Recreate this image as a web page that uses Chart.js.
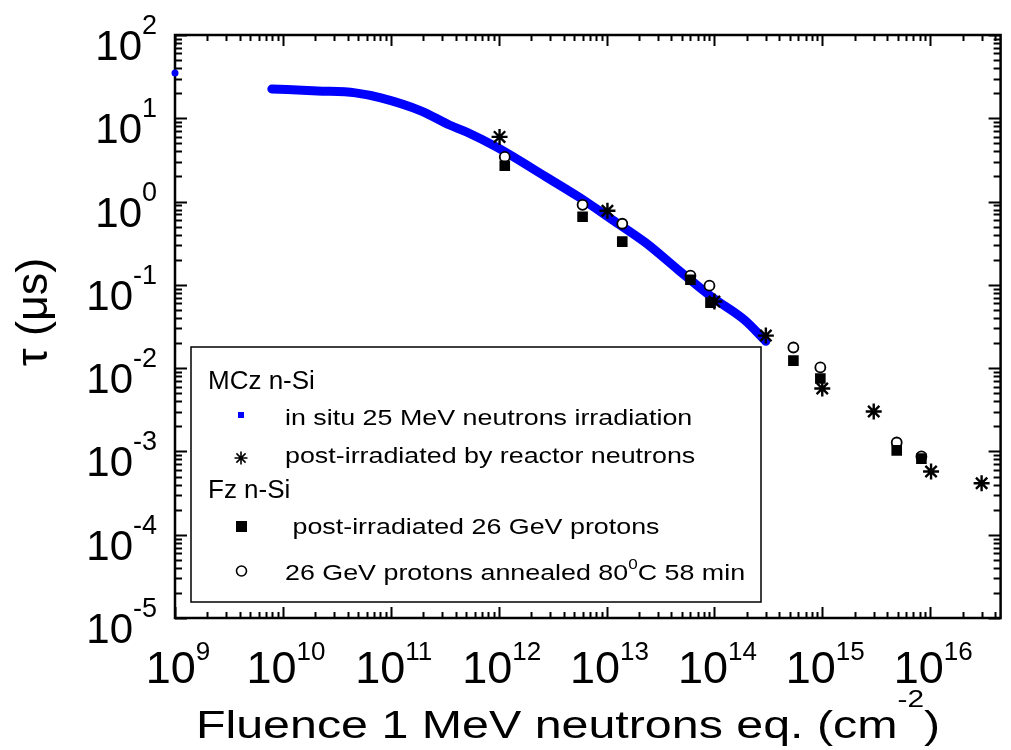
<!DOCTYPE html>
<html>
<head>
<meta charset="utf-8">
<script src="https://cdn.jsdelivr.net/npm/chart.js@4.4.1/dist/chart.umd.min.js"></script>
<style>
  html, body { margin: 0; padding: 0; background: #fff; }
</style>
</head>
<body>
<canvas id="c" width="1011" height="750"></canvas>
<script>
// MCz n-Si, in situ 25 MeV neutrons irradiation (dense measurement, read along the band)
const insituX = [7.9e9, 2.1e10, 4.7e10, 8.1e10, 1.9e11, 3.5e11, 5.1e11, 9.6e11, 2.75e12, 5.5e12, 1.13e13, 2.3e13, 4.6e13, 9.4e13, 1.9e14, 3.0e14];
const insituY = [22.5, 21.3, 20.2, 17.6, 12.3, 8.3, 6.8, 4.5, 1.98, 1.14, 0.605, 0.321, 0.152, 0.072, 0.038, 0.021];
// lone point at the left edge
const insituStartX = [1e9];
const insituStartY = [35];

// MCz n-Si, post-irradiated by reactor neutrons
const reactorX = [1.02e12, 1.02e13, 1.0e14, 3.0e14, 1.0e15, 3.0e15, 1.02e16, 3.0e16];
const reactorY = [5.98, 0.776, 0.063, 0.0246, 0.0057, 0.00302, 5.75e-4, 4.15e-4];

// Fz n-Si, post-irradiated 26 GeV protons
const protonX = [1.14e12, 6.0e12, 1.4e13, 6.0e13, 9.2e13, 5.4e14, 9.6e14, 4.9e15, 8.3e15];
const protonY = [2.69, 0.658, 0.33, 0.115, 0.0612, 0.0123, 0.0075, 1.03e-3, 8.2e-4];

// Fz n-Si, 26 GeV protons annealed 80 C 58 min
const annealX = [1.14e12, 6.0e12, 1.4e13, 6.0e13, 9.0e13, 5.4e14, 9.6e14, 4.9e15, 8.3e15];
const annealY = [3.44, 0.915, 0.542, 0.129, 0.0977, 0.0177, 0.0102, 1.28e-3, 8.7e-4];

// decade labels
const xTickExps = ['9', '10', '11', '12', '13', '14', '15', '16'];
const yTickExps = ['-5', '-4', '-3', '-2', '-1', '0', '1', '2'];

const FONT = '"Liberation Sans", Arial, Helvetica, sans-serif';
const pts = (xs, ys) => xs.map((x, i) => ({ x: x, y: ys[i] }));

// draw "10" with a raised exponent
function powLabel(ctx, exp, x, baseY, bigPx, smallPx, align, rise) {
    ctx.font = bigPx + 'px ' + FONT;
    const w1 = ctx.measureText('10').width;
    ctx.font = smallPx + 'px ' + FONT;
    const w2 = ctx.measureText(exp).width;
    const left = align === 'center' ? x - (w1 + w2) / 2 : x - (w1 + w2);
    ctx.textAlign = 'left';
    ctx.textBaseline = 'alphabetic';
    ctx.font = bigPx + 'px ' + FONT;
    ctx.fillText('10', left, baseY);
    ctx.font = smallPx + 'px ' + FONT;
    ctx.fillText(exp, left + w1, baseY - rise);
}

// text pieces: [text, size, rise], sx = horizontal stretch
function richText(ctx, parts, x, y, align, sx) {
    sx = sx || 1;
    let total = 0;
    parts.forEach(p => { ctx.font = p[1] + 'px ' + FONT; total += ctx.measureText(p[0]).width; });
    total *= sx;
    const start = align === 'center' ? x - total / 2 : x;
    ctx.save();
    ctx.translate(start, y);
    ctx.scale(sx, 1);
    ctx.textAlign = 'left';
    ctx.textBaseline = 'alphabetic';
    let cx = 0;
    parts.forEach(p => {
        ctx.font = p[1] + 'px ' + FONT;
        ctx.fillText(p[0], cx, -(p[2] || 0));
        cx += ctx.measureText(p[0]).width;
    });
    ctx.restore();
}

// frame, inward ticks, tick labels and axis titles (under the data)
const framePlugin = {
    id: 'frame',
    beforeDatasetsDraw(chart) {
        const ctx = chart.ctx;
        const a = chart.chartArea;
        const xs = chart.scales.x, ys = chart.scales.y;
        ctx.save();
        ctx.strokeStyle = '#000';
        ctx.fillStyle = '#000';

        ctx.lineWidth = 2;
        ctx.beginPath();
        for (let e = 9; e <= 16; e++) {
            for (let m = 1; m <= 9; m++) {
                const v = m * Math.pow(10, e);
                if (v < xs.min || v > xs.max) continue;
                const px = Math.round(xs.getPixelForValue(v)) + 0.5;
                const len = m === 1 ? 11 : 6;
                ctx.moveTo(px, a.bottom); ctx.lineTo(px, a.bottom - len);
                ctx.moveTo(px, a.top); ctx.lineTo(px, a.top + len);
            }
        }
        for (let e = -5; e <= 2; e++) {
            for (let m = 1; m <= 9; m++) {
                const v = m * Math.pow(10, e);
                if (v < ys.min * 0.999 || v > ys.max * 1.001) continue;
                const py = Math.round(ys.getPixelForValue(v)) + 0.5;
                const len = m === 1 ? 12 : 7;
                ctx.moveTo(a.left, py); ctx.lineTo(a.left + len, py);
                ctx.moveTo(a.right, py); ctx.lineTo(a.right - len, py);
            }
        }
        ctx.stroke();

        ctx.lineWidth = 2.5;
        ctx.strokeRect(a.left, a.top, a.right - a.left, a.bottom - a.top);

        xTickExps.forEach(exp => {
            const px = xs.getPixelForValue(Math.pow(10, +exp));
            powLabel(ctx, exp, px + 3, 683, 45, 26, 'center', 23);
        });
        yTickExps.forEach(exp => {
            const py = ys.getPixelForValue(Math.pow(10, +exp));
            powLabel(ctx, exp, 157, py + 25, 42, 27, 'right', 26);
        });

        richText(ctx, [['Fluence 1 MeV neutrons eq. (cm', 39], ['-2', 24, 31], [')', 39]], 568, 738, 'center', 1.24);
        ctx.save();
        ctx.translate(47, 312);
        ctx.rotate(-Math.PI / 2);
        ctx.font = '45px ' + FONT;
        ctx.textAlign = 'center';
        ctx.textBaseline = 'alphabetic';
        ctx.fillText('\u03C4 (\u03BCs)', 0, 0);
        ctx.restore();
        ctx.restore();
    }
};

// grouped legend box (on top)
const legendPlugin = {
    id: 'groupLegend',
    afterDraw(chart) {
        const ctx = chart.ctx;
        ctx.save();
        const bx = 191, by = 347, bw = 570, bh = 255;
        ctx.fillStyle = '#fff';
        ctx.fillRect(bx, by, bw, bh);
        ctx.lineWidth = 1.5;
        ctx.strokeStyle = '#000';
        ctx.strokeRect(bx, by, bw, bh);
        ctx.fillStyle = '#000';

        richText(ctx, [['MCz n-Si', 26]], 208, 389, 'left');
        ctx.fillStyle = '#0000ff';
        ctx.fillRect(238, 412, 6, 6);
        ctx.fillStyle = '#000';
        richText(ctx, [['in situ 25 MeV neutrons irradiation', 22]], 285, 425, 'left', 1.22);

        ctx.lineWidth = 1.6;
        ctx.beginPath();
        Chart.helpers.drawPoint(ctx, { pointStyle: 'star', radius: 6.5, borderWidth: 1.6 }, 241, 458);
        richText(ctx, [['post-irradiated by reactor neutrons', 22]], 285, 463, 'left', 1.22);

        richText(ctx, [['Fz n-Si', 26]], 208, 498, 'left');
        ctx.fillRect(236, 521, 11, 11);
        richText(ctx, [[' post-irradiated 26 GeV protons', 22]], 285, 534, 'left', 1.22);

        ctx.beginPath();
        ctx.arc(241.5, 571, 5, 0, Math.PI * 2);
        ctx.fillStyle = '#fff';
        ctx.fill();
        ctx.lineWidth = 1.6;
        ctx.stroke();
        ctx.fillStyle = '#000';
        richText(ctx, [['26 GeV protons annealed 80', 22], ['0', 14, 11], ['C 58 min', 22]], 285, 580, 'left', 1.22);
        ctx.restore();
    }
};

new Chart(document.getElementById('c').getContext('2d'), {
    type: 'scatter',
    data: {
        datasets: [
            {
                label: 'in situ 25 MeV neutrons irradiation',
                data: pts(insituX, insituY),
                showLine: true,
                borderColor: '#0000ff',
                backgroundColor: '#0000ff',
                borderWidth: 9,
                borderCapStyle: 'round',
                borderJoinStyle: 'round',
                cubicInterpolationMode: 'monotone',
                pointRadius: 0,
                order: 4
            },
            {
                label: 'in situ start',
                data: pts(insituStartX, insituStartY),
                pointStyle: 'circle',
                pointRadius: 3.5,
                backgroundColor: '#0000ff',
                borderColor: '#0000ff',
                borderWidth: 0,
                clip: false,
                order: 4
            },
            {
                label: 'post-irradiated by reactor neutrons',
                data: pts(reactorX, reactorY),
                pointStyle: 'star',
                pointRadius: 8,
                borderColor: '#000',
                borderWidth: 2.4,
                order: 1
            },
            {
                label: 'post-irradiated 26 GeV protons',
                data: pts(protonX, protonY),
                pointStyle: 'rect',
                pointRadius: 7.5,
                backgroundColor: '#000',
                borderColor: '#000',
                borderWidth: 0,
                order: 2
            },
            {
                label: '26 GeV protons annealed 80C 58 min',
                data: pts(annealX, annealY),
                pointStyle: 'circle',
                pointRadius: 5,
                backgroundColor: '#fff',
                borderColor: '#000',
                borderWidth: 1.8,
                order: 3
            }
        ]
    },
    options: {
        responsive: false,
        animation: false,
        devicePixelRatio: 1,
        layout: { padding: { left: 175, top: 35, right: 1.5, bottom: 132 } },
        scales: {
            x: { type: 'logarithmic', min: 1e9, max: 4.5e16, display: false },
            y: { type: 'logarithmic', min: 1e-5, max: 100, display: false }
        },
        plugins: {
            legend: { display: false },
            tooltip: { enabled: false }
        }
    },
    plugins: [framePlugin, legendPlugin]
});
</script>
</body>
</html>
